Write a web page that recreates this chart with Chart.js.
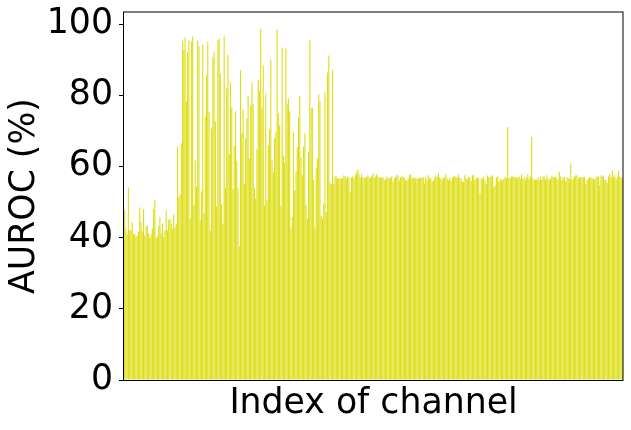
<!DOCTYPE html>
<html>
<head>
<meta charset="utf-8">
<script src="https://cdn.jsdelivr.net/npm/chart.js@4.4.1/dist/chart.umd.min.js"></script>
<style>
  html, body { margin: 0; padding: 0; background: #fff; }
  #wrap { width: 631px; height: 430px; }
</style>
</head>
<body>
<div id="wrap"><canvas id="barChart"></canvas></div>
<script>
// AUROC per channel, left to right
const lowStart = [47.7, 42.6, 41, 54.1, 42.1, 42.1, 44.3, 41, 41, 40.4, 40.6, 41.8, 48.5, 44.3, 41.8, 48, 40.6, 43.1, 43.4, 41.2,
  40, 41, 42.6, 48, 50.5, 40, 40.4, 43.1, 45.7, 41.2, 44, 40.2, 42, 47.7, 42.1, 45, 45.2, 43.9, 42.4, 46.6, 42.9, 44];

const activeBandA = [65.6, 51.3, 52.2, 66.5, 95.4, 92.8, 96.2, 78.3, 92, 95.4, 45.4, 95.1, 96.5, 49.1, 61.7, 54.4, 95.4, 93.7, 44.9, 53,
  94.2, 46.8, 74, 85.8, 95.1, 75.2, 42, 70.7, 90.6, 92.3, 72.6, 48.8, 95.4, 95.9, 86.1, 49.4, 43.9, 96.5, 54.1, 81.9,
  91.4, 63.4, 83.6, 76.6, 53.6, 65.9, 75.5, 61.4, 53.9, 37.6, 87, 69.3, 76, 55, 67.9, 73.5, 79.9, 62.3];

const activeBandB = [77.1, 83.6, 77.7, 54.1, 51, 65, 84.4, 81.1, 98.7, 76.3, 88.4, 49.1, 80.5, 50.5, 65.9, 70.4, 90, 61.7, 58.3, 67.9,
  69.6, 98.5, 74.9, 71.5, 48.8, 93.4, 63.1, 61.1, 93.1, 77.7, 79.1, 75.5, 42.6, 45.7, 69.6, 53.3, 58.6, 65.4, 73.8, 79.9,
  62.6, 57.5, 65.6, 69.3, 49.1, 45.4, 64.2, 95.6, 76.3, 76.5, 56.1, 42.9, 59.7, 62.3, 80.2, 78.3, 46, 45.2, 49.6, 80.8,
  47.1, 86.4, 91.2, 55.5, 55, 87.2];

const flatA = [55, 57.2, 57.2, 56.6, 56.6, 56.6, 56.6, 56.8, 57.5, 57.2, 56.6, 57.2, 56.8, 52.7, 57, 57.2, 56.6, 57.5, 58.3, 59.2,
  57.8, 56.8, 57.8, 57, 56.8, 57, 57, 57.5, 56.8, 56.8, 57.2, 58, 56.8, 57.2, 57.8, 57.2, 56.9, 56.9, 56.9, 56.9,
  56.3, 56.3, 57.2, 56.8, 56.6, 56.9, 57.2, 55.6, 56.6, 57, 57.5, 57.5, 56.1, 56.9, 57.2, 57.2, 56.8, 56.1, 56.1, 56.6,
  57.5, 57.8, 56.8, 56.9, 56.6, 56.8, 56.6, 56.6, 56.8, 56.8, 56.8, 57, 55.2, 57.2, 56.3, 57.5, 56.6, 56.8, 55.6, 56.1,
  56.8, 57.5, 57.2, 58.1, 57, 56.6, 56.3, 56.8, 57, 57.8, 56.6, 56.1, 56.8, 55.9, 56.9, 57.2, 57.2, 57.2, 56.8, 57.8,
  56.8, 56.6, 55.9, 55.6, 57.5, 56.8, 56.3, 57.2, 56.9, 55.9, 57.5, 57.5, 56.3, 56.8, 56.8];

const flatB = [56.8, 52.4, 56.6, 56.6, 57.2, 56.1, 55, 57.5, 57, 57, 57.2, 57.5, 54.2, 54.7, 57, 57.2, 55.8, 56.6, 56.3, 56.1,
  56.6, 57.2, 56.6, 71.1, 57, 56.6, 57.2, 57.2, 57, 57.1, 56.6, 57, 57.2, 56.6, 57.8, 56.6, 57, 56.3, 57, 57.8,
  56.6, 57.2, 68.3, 56.6, 56.3, 56.3, 56.3, 57, 56.3, 57.1, 56.3, 57.2, 57.2, 56.3, 57.5, 56.6, 56.3, 56.6, 57.2, 57.2,
  57, 57.2, 56.6, 56.3, 58.6, 57.2, 56.1, 57, 57, 55.8, 57, 56.6, 56.6, 60.9, 56.3, 56.6, 57.2, 57.5, 57.5, 56.6,
  57, 57, 57, 57, 57, 55, 56.3, 56.6, 57, 57, 56.6, 56.6, 56.3, 57, 57.2, 57.2, 54.7, 57.5, 57.2, 57.5,
  56.3, 56.3, 55.4, 57.2, 57.8, 57, 58.8, 57, 57.5, 56.3, 57.1, 58.8, 57.2, 57, 56.6];

const yTicks = [0, 20, 40, 60, 80, 100];

const auroc = [].concat(lowStart, activeBandA, activeBandB, flatA, flatB);
const channels = auroc.map((_, i) => i + 1);

const fontFam = "'DejaVu Sans', sans-serif";

// box round the plot, like the matplotlib spines
const frame = {
  id: 'frame',
  afterDraw(chart) {
    const { ctx, chartArea: a } = chart;
    ctx.save();
    ctx.strokeStyle = '#000';
    ctx.lineWidth = 1;
    ctx.strokeRect(a.left - 0.5, a.top, a.right - a.left + 0.5, a.bottom - a.top + 0.5);
    ctx.restore();
  }
};

const ctx = document.getElementById('barChart').getContext('2d');
new Chart(ctx, {
  type: 'bar',
  data: {
    labels: channels,
    datasets: [{
      data: auroc,
      backgroundColor: 'rgb(222,222,24)',
      barPercentage: 0.88,
      categoryPercentage: 1.0
    }]
  },
  options: {
    responsive: true,
    maintainAspectRatio: false,
    animation: false,
    layout: { padding: { left: 0, right: 8, top: 12, bottom: 0 } },
    plugins: { legend: { display: false }, tooltip: { enabled: false } },
    scales: {
      x: {
        ticks: { display: false },
        grid: { display: false },
        border: { display: false },
        title: { display: true, text: 'Index of channel', color: '#000',
                 font: { family: fontFam, size: 34.7 }, padding: { top: 0, bottom: 5 } },
        afterFit: s => { s.height = 50; s.paddingLeft = 0; s.paddingRight = 0; }
      },
      y: {
        min: 0,
        max: 103.4,
        afterBuildTicks: s => { s.ticks = yTicks.map(v => ({ value: v })); },
        ticks: { color: '#000', font: { family: fontFam, size: 34.7 }, padding: 6 },
        grid: { drawOnChartArea: false, drawTicks: true, tickLength: 5, color: '#000' },
        border: { display: false },
        title: { display: true, text: 'AUROC (%)', color: '#000',
                 font: { family: fontFam, size: 34.7 }, padding: { top: 4, bottom: 0 } },
        afterFit: s => { s.width = 124; s.paddingTop = 0; s.paddingBottom = 0; }
      }
    }
  },
  plugins: [frame]
});
</script>
</body>
</html>
